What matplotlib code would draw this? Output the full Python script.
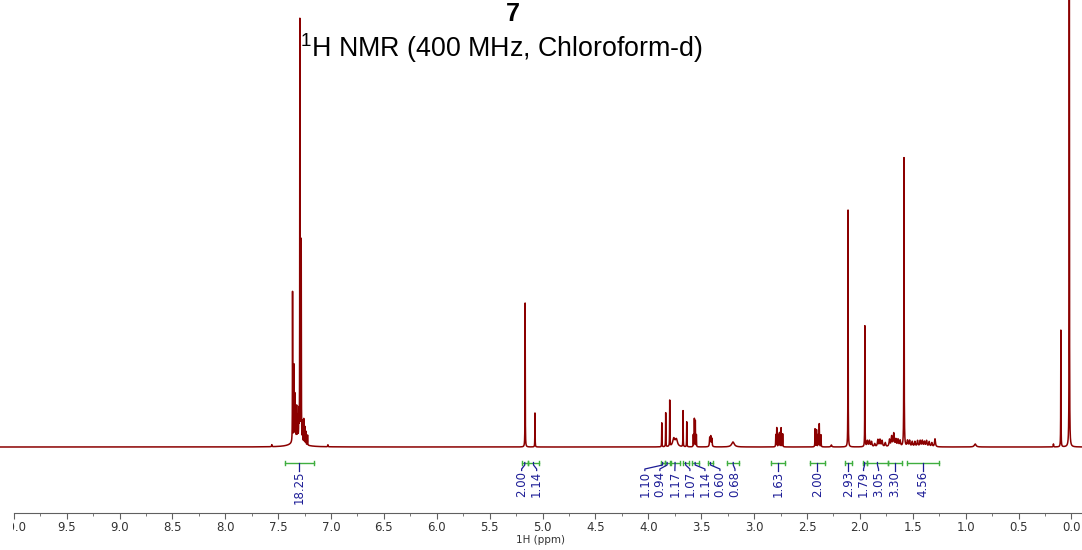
import numpy as np
import matplotlib
matplotlib.use("Agg")
import matplotlib.pyplot as plt
from matplotlib.ticker import MultipleLocator
from matplotlib.transforms import Bbox, TransformedBbox

# peak list: shift (ppm), height (px above baseline), half width (ppm)
peak_ppm = [7.560, 7.364, 7.352, 7.343, 7.335, 7.325, 7.315, 7.305, 7.295, 7.282,
            7.270, 7.258, 7.248, 7.238, 7.222, 7.320, 7.030,
            5.165, 5.072,
            3.873, 3.836, 3.798, 3.760, 3.735, 3.672, 3.637, 3.575, 3.565, 3.556,
            3.546, 3.420, 3.410, 3.400, 3.200,
            2.795, 2.786, 2.770, 2.760, 2.745, 2.730,
            2.424, 2.410, 2.395, 2.384, 2.368, 2.270,
            2.112, 1.953, 1.583,
            1.930, 1.910, 1.890, 1.860, 1.830, 1.810, 1.790, 1.760, 1.720, 1.700,
            1.680, 1.660, 1.640, 1.620, 1.550, 1.530, 1.505, 1.480, 1.455, 1.430,
            1.410, 1.390, 1.370, 1.345, 1.320, 1.290,
            0.910, 0.170, 0.100, 0.020]
peak_height = [2, 150, 75, 45, 28, 32, 22, 26, 420, 200,
               20, 24, 17, 13, 10, 8, 2,
               144, 34,
               24, 34, 46, 8, 7, 36, 25, 12, 28, 26,
               12, 9, 10, 8, 5,
               12, 19, 12, 14, 19, 13,
               18, 17, 12, 23, 12, 2,
               237, 121, 289,
               6, 6, 5, 3, 7, 7, 6, 4, 7, 10,
               13, 7, 7, 6, 6, 6, 5, 5, 6, 6,
               6, 5, 6, 5, 4, 8,
               3, 3, 117, 700]
peak_width = [0.002, 0.0012, 0.0012, 0.0012, 0.0012, 0.0012, 0.0012, 0.0012, 0.0012, 0.0012,
              0.0012, 0.0012, 0.0012, 0.0012, 0.0012, 0.05, 0.002,
              0.0012, 0.0012,
              0.0012, 0.0012, 0.0012, 0.012, 0.012, 0.0012, 0.0012, 0.0012, 0.0012, 0.0012,
              0.0012, 0.003, 0.003, 0.003, 0.015,
              0.0015, 0.0015, 0.0015, 0.0015, 0.0015, 0.0015,
              0.0015, 0.0015, 0.0015, 0.0015, 0.0015, 0.005,
              0.0012, 0.0012, 0.0015,
              0.005, 0.005, 0.005, 0.005, 0.005, 0.005, 0.005, 0.005, 0.005, 0.005,
              0.005, 0.005, 0.005, 0.005, 0.005, 0.005, 0.005, 0.005, 0.005, 0.005,
              0.005, 0.005, 0.005, 0.005, 0.005, 0.005,
              0.01, 0.002, 0.0012, 0.0012]

# integrals: from ppm, to ppm, value
int_from = [7.44, 5.195, 5.142, 3.885, 3.845, 3.790, 3.675, 3.590, 3.440, 3.255,
            2.840, 2.472, 2.141, 1.974, 1.936, 1.732, 1.558]
int_to = [7.16, 5.142, 5.030, 3.845, 3.800, 3.705, 3.620, 3.525, 3.385, 3.140,
          2.708, 2.330, 2.078, 1.936, 1.732, 1.605, 1.250]
int_value = [18.25, 2.00, 1.14, 1.10, 0.94, 1.17, 1.07, 1.14, 0.60, 0.68,
             1.63, 2.00, 2.93, 1.79, 3.05, 3.30, 4.56]

title = "7"
subtitle = r"$^{\mathregular{1}}$H NMR (400 MHz, Chloroform-d)"

red = "#8b0000"
green = "#3fae3f"
blue = "#1c1c96"

xs = np.linspace(10.13, -0.1, 90000)
spec = np.zeros_like(xs)
for p, h, w in zip(peak_ppm, peak_height, peak_width):
    spec += h * w**2 / ((xs - p)**2 + w**2)


def spread(centers, gap):
    # pack overlapping labels into evenly spaced groups centred on their mean
    groups = [[c] for c in centers]
    while True:
        pos = []
        for g in groups:
            m = np.mean(g)
            s = m + (len(g) - 1) / 2 * gap
            pos.append([s - i * gap for i in range(len(g))])
        merged = False
        for i in range(len(groups) - 1):
            if pos[i][-1] - pos[i + 1][0] < gap:
                groups[i] = groups[i] + groups[i + 1]
                del groups[i + 1]
                merged = True
                break
        if not merged:
            return [p for grp in pos for p in grp]


fig = plt.figure(figsize=(10.82, 5.5), dpi=100)
ax = fig.add_axes([0, 37.3 / 550, 1, 512.7 / 550])
ax.plot(xs, spec, color=red, lw=1.1)
ax.set_xlim(10.13, -0.1)
ax.set_ylim(-65.7, 447)

ybr = -15.5
centers = [(a + b) / 2 for a, b in zip(int_from, int_to)]
labels = spread(centers, 0.142)
for a, b, v, c, lx in zip(int_from, int_to, int_value, centers, labels):
    ax.plot([a, b], [ybr, ybr], color=green, lw=1)
    ax.plot([a, a], [ybr - 2, ybr + 2], color=green, lw=1)
    ax.plot([b, b], [ybr - 2, ybr + 2], color=green, lw=1)
    ax.plot([c, c, lx, lx], [ybr, ybr - 2.5, ybr - 6.5, ybr - 8], color=blue, lw=0.9)
    ax.text(lx, ybr - 8.5, "%.2f" % v, rotation=90, ha="center", va="top",
            color=blue, fontsize=8.5, family="DejaVu Sans")

for s in ["top", "left", "right"]:
    ax.spines[s].set_visible(False)
ax.spines["bottom"].set_color("#606060")
ax.spines["bottom"].set_bounds(10.0, -0.1)
ax.set_yticks([])
ax.xaxis.set_major_locator(MultipleLocator(0.5))
ax.xaxis.set_minor_locator(MultipleLocator(0.25))
ax.tick_params(axis="x", which="major", length=4, color="#606060", labelsize=8.5,
               labelcolor="#333333", pad=2)
ax.tick_params(axis="x", which="minor", length=2, color="#606060")
ax.set_xlabel("1H (ppm)", fontsize=7.5, color="#333333", labelpad=1)
ax.patch.set_alpha(0)

# the scale starts at 10.0, so its first label is cut there
clip = TransformedBbox(Bbox([[12.5 / 1082, 0], [1, 1]]), fig.transFigure)
for t in ax.xaxis.get_major_ticks():
    t.label1.set_clip_box(clip)
    t.label1.set_clip_on(True)

fig.text(513 / 1082, 1 - 14 / 550, title, ha="center", va="center", fontsize=18,
         fontweight="bold", family="Liberation Sans")
fig.text(501 / 1082, 1 - 48 / 550, subtitle, ha="center", va="center", fontsize=19.3,
         family="Liberation Sans")

fig.savefig("out.png", dpi=100)
